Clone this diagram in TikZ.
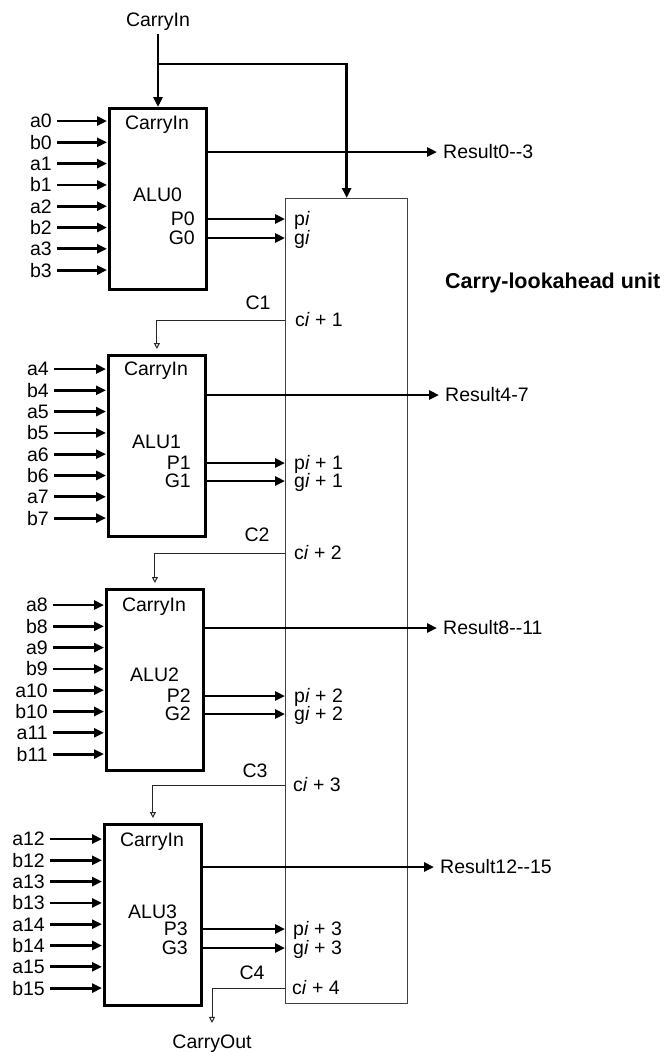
\documentclass[tikz,border=0pt]{standalone}
\usepackage{fontspec}
\setmainfont{Liberation Sans}
\usetikzlibrary{arrows.meta}
\begin{document}
\begin{tikzpicture}[x=1pt,y=-1pt,
  lbl/.style={inner sep=0pt, font=\fontsize{19.5}{21}\selectfont, text height=13.8pt, text depth=0pt},
  alubox/.style={draw, line width=2.8pt, inner sep=0pt, anchor=north west, minimum width=97pt, minimum height=181pt},
  clabox/.style={draw=black!75, line width=1.3pt, inner sep=0pt, anchor=north west, minimum width=122pt, minimum height=805pt},
  bus/.style={line width=2.8pt, -{Triangle[length=10pt,width=9pt]}},
  inarrow/.style={line width=2.8pt, -{Triangle[length=10pt,width=9pt]}, shorten <=5pt, shorten >=1pt},
  carry/.style={line width=1pt, black!85, -{Triangle[open,length=6pt,width=6pt,fill=white]}, shorten >=5pt}
]
\useasboundingbox (0,0) rectangle (672,1053);

% boxes
\node[alubox] (alu0) at (108,107) {};
\node[alubox] (alu1) at (107,354) {};
\node[alubox] (alu2) at (105,588) {};
\node[alubox] (alu3) at (103,823) {};
\node[clabox] (cla) at (285,198) {};

% CarryIn
\node[lbl] (cin) at (158,20) {CarryIn};
\coordinate (br) at (cin.south |- 0,64);
\draw[bus, shorten <=7pt] (cin.south) -- (cin.south |- alu0.north);
\draw[bus] (br) -| (cla.north);

% inputs
\foreach \j/\top/\xr in {0/121/52,1/369/49,2/605/48,3/839/45} {
  \foreach \k in {0,...,3} {
    \pgfmathtruncatemacro\n{4*\j+\k}
    \node[lbl, anchor=east] (a\n) at (\xr, \top+42.6*\k) {a\n};
    \node[lbl, anchor=east] (b\n) at (\xr, \top+42.6*\k+21.3) {b\n};
    \draw[inarrow] (a\n.east) -- (a\n.east -| alu\j.west);
    \draw[inarrow] (b\n.east) -- (b\n.east -| alu\j.west);
  }
}

% ALU inner labels
\node[lbl] (ci0) at (157,123) {CarryIn};
\node[lbl] (ci1) at (156,369) {CarryIn};
\node[lbl] (ci2) at (154,605) {CarryIn};
\node[lbl] (ci3) at (152,840) {CarryIn};
\node[lbl, anchor=west] (n0) at (133,195) {ALU0};
\node[lbl, anchor=west] (n1) at (132,442) {ALU1};
\node[lbl, anchor=west] (n2) at (130,675) {ALU2};
\node[lbl, anchor=west] (n3) at (128,912) {ALU3};
\node[lbl, anchor=east] (P0) at (195,219) {P0};
\node[lbl, anchor=east] (G0) at (195,238) {G0};
\node[lbl, anchor=east] (P1) at (191,463) {P1};
\node[lbl, anchor=east] (G1) at (191,481) {G1};
\node[lbl, anchor=east] (P2) at (191,696) {P2};
\node[lbl, anchor=east] (G2) at (191,714) {G2};
\node[lbl, anchor=east] (P3) at (188,929) {P3};
\node[lbl, anchor=east] (G3) at (188,948) {G3};

% CLA inner labels
\node[lbl, anchor=west] (pi0) at (294,219) {p\textit{i}};
\node[lbl, anchor=west] (gi0) at (294,238) {g\textit{i}};
\node[lbl, anchor=west] (pi1) at (294,463) {p\textit{i} + 1};
\node[lbl, anchor=west] (gi1) at (294,481) {g\textit{i} + 1};
\node[lbl, anchor=west] (pi2) at (294,696) {p\textit{i} + 2};
\node[lbl, anchor=west] (gi2) at (294,714) {g\textit{i} + 2};
\node[lbl, anchor=west] (pi3) at (293,929) {p\textit{i} + 3};
\node[lbl, anchor=west] (gi3) at (293,948) {g\textit{i} + 3};
\node[lbl, anchor=west] (c1) at (295,320) {c\textit{i} + 1};
\node[lbl, anchor=west] (c2) at (294,553) {c\textit{i} + 2};
\node[lbl, anchor=west] (c3) at (293,785) {c\textit{i} + 3};
\node[lbl, anchor=west] (c4) at (292,988) {c\textit{i} + 4};

% P/G arrows
\foreach \i in {0,1,2,3} {
  \draw[bus] (alu\i.east |- pi\i) -- (cla.west |- pi\i);
  \draw[bus] (alu\i.east |- gi\i) -- (cla.west |- gi\i);
}

% results
\node[lbl, anchor=west] (r0) at (443,152) {Result0-{}-3};
\node[lbl, anchor=west] (r1) at (445,395) {Result4-7};
\node[lbl, anchor=west] (r2) at (443,628) {Result8-{}-11};
\node[lbl, anchor=west] (r3) at (440,867) {Result12-{}-15};
\foreach \i in {0,1,2,3} {
  \draw[bus, shorten >=6pt] (alu\i.east |- r\i) -- (r\i.west);
}

% carry labels and lines
\node[lbl] (C1) at (258,303) {C1};
\node[lbl] (C2) at (257,535) {C2};
\node[lbl] (C3) at (255,771) {C3};
\node[lbl] (C4) at (252,973) {C4};
\node[lbl] (cout) at (212,1042) {CarryOut};
\draw[carry] (cla.west |- c1) -| (alu1.north);
\draw[carry] (cla.west |- c2) -| (alu2.north);
\draw[carry] (cla.west |- c3) -| (alu3.north);
\draw[carry, shorten >=12pt] (cla.west |- c4) -| (cout.north);

\node[inner sep=0pt, anchor=west, font=\fontsize{21.5}{24}\selectfont\bfseries] (clalbl) at (445,283) {Carry-lookahead unit};
\end{tikzpicture}
\end{document}
